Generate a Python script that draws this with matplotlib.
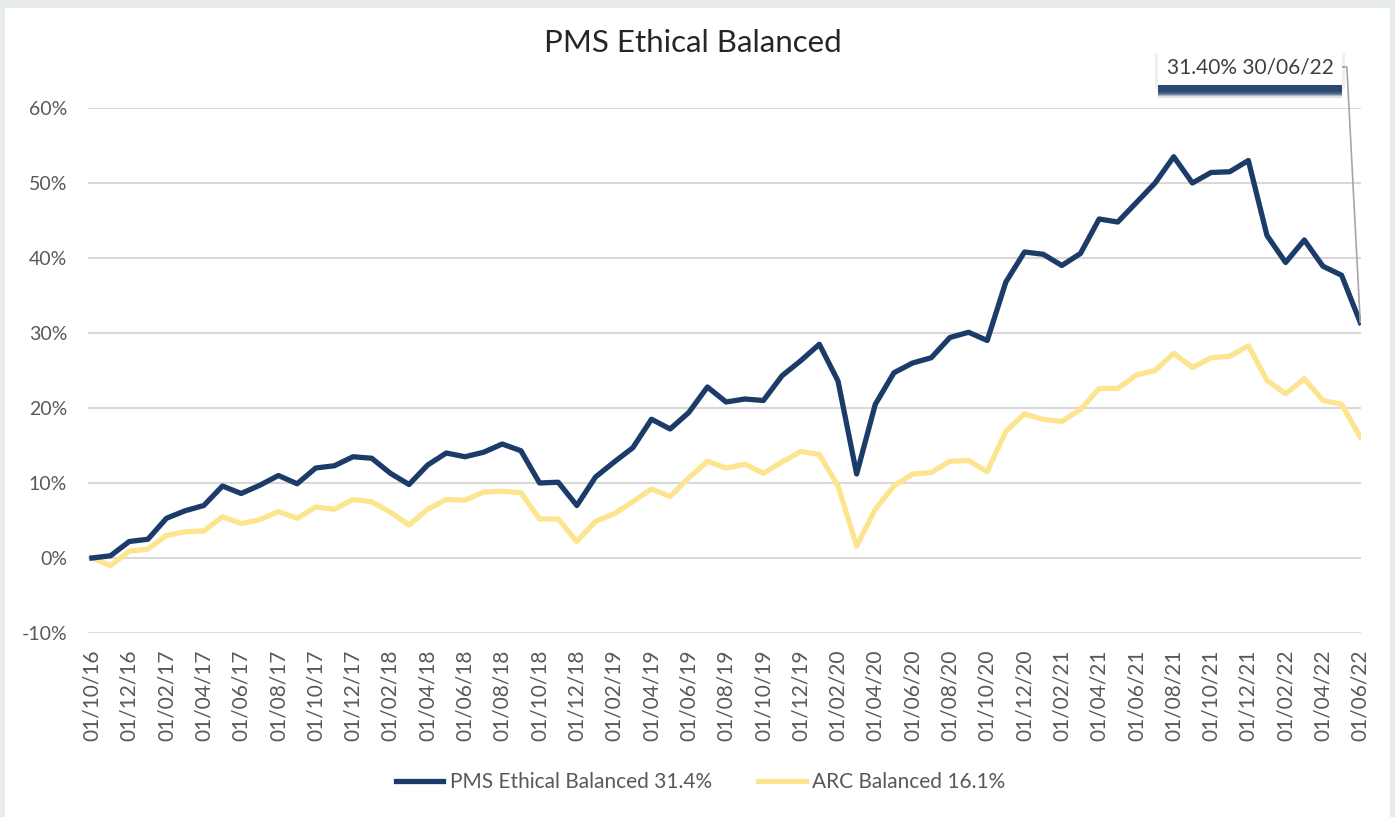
import matplotlib.pyplot as plt
import matplotlib.patheffects as pe
from matplotlib.patches import Rectangle

# monthly cumulative returns (%), Oct 2016 .. Jun 2022
months = [f"01/{m:02d}/{y % 100:02d}" for y in range(2016, 2023) for m in range(1, 13)]
months = months[9:9 + 69]

pms = [0.0, 0.3, 2.2, 2.5, 5.3, 6.3, 7.0, 9.6, 8.6, 9.7,
       11.0, 9.9, 12.0, 12.3, 13.5, 13.3, 11.3, 9.8, 12.4, 14.0,
       13.5, 14.1, 15.2, 14.3, 10.0, 10.1, 7.0, 10.8, 12.8, 14.7,
       18.5, 17.2, 19.4, 22.8, 20.8, 21.2, 21.0, 24.3, 26.3, 28.5,
       23.6, 11.2, 20.5, 24.7, 26.0, 26.7, 29.4, 30.1, 29.0, 36.8,
       40.8, 40.5, 39.0, 40.6, 45.2, 44.8, 47.4, 50.0, 53.5, 50.0,
       51.4, 51.5, 53.0, 43.0, 39.4, 42.4, 38.9, 37.7, 31.4]

arc = [0.0, -1.0, 0.9, 1.2, 3.0, 3.5, 3.6, 5.5, 4.6, 5.1,
       6.2, 5.3, 6.8, 6.5, 7.8, 7.5, 6.1, 4.4, 6.5, 7.8,
       7.7, 8.8, 8.9, 8.7, 5.2, 5.2, 2.2, 4.9, 5.9, 7.5,
       9.2, 8.2, 10.7, 12.9, 12.0, 12.5, 11.3, 12.8, 14.2, 13.8,
       9.6, 1.6, 6.5, 9.6, 11.2, 11.4, 12.9, 13.0, 11.5, 16.9,
       19.2, 18.5, 18.2, 19.8, 22.6, 22.6, 24.4, 25.0, 27.3, 25.4,
       26.7, 26.9, 28.3, 23.7, 21.9, 23.9, 21.0, 20.5, 16.1]

yticks = [-10, 0, 10, 20, 30, 40, 50, 60]
navy = "#1b3b68"
yellow = "#fde590"
grey_txt = "#595959"
font = ["Lato", "DejaVu Sans"]

fig = plt.figure(figsize=(13.95, 8.17), dpi=100, facecolor="#e8ebeb")
fig.patches.append(Rectangle((5 / 1395, 0), 1385 / 1395, 1 - 8 / 817,
                             transform=fig.transFigure, facecolor="white",
                             edgecolor="none", zorder=-5))

ax = fig.add_axes([88 / 1395, 1 - 633 / 817, (1361 - 88) / 1395, (633 - 108) / 817])
ax.set_facecolor("none")
x = list(range(len(pms)))
ax.plot(x, pms, color=navy, lw=3.8, label="PMS Ethical Balanced 31.4%", zorder=3)
ax.plot(x, arc, color=yellow, lw=3.8, label="ARC Balanced 16.1%", zorder=2)

ax.set_xlim(-0.21, 68.04)
ax.set_ylim(-10, 60)
ax.set_yticks(yticks)
ax.set_yticklabels([f"{v}%" for v in yticks], fontsize=14, color=grey_txt, family=font)
ax.set_xticks(x[::2])
ax.set_xticklabels(months[::2], rotation=90, fontsize=15, color=grey_txt, family=font)
ax.tick_params(length=0)
ax.tick_params(axis="x", pad=12)
ax.tick_params(axis="y", pad=15)
ax.grid(axis="y", color="#d9d9d9", lw=1.5)
for s in ax.spines.values():
    s.set_visible(False)

fig.text(0.497, 1 - 43 / 817, "PMS Ethical Balanced", ha="center", va="center",
         fontsize=22.5, color="#262626", family=font)

leg = fig.legend(loc="center", bbox_to_anchor=(0.502, 1 - 782 / 817), ncol=2, frameon=False,
                 prop={"family": font, "size": 15}, handlelength=2.3, handletextpad=0.3,
                 columnspacing=2.2)
for t in leg.get_texts():
    t.set_color(grey_txt)

ann = ax.annotate("31.40% 30/06/22", xy=(68, pms[-1]),
                  xytext=(1250 / 1395, 1 - 67 / 817), textcoords="figure fraction",
                  ha="center", va="center", fontsize=15, color="#404040", family=font,
                  annotation_clip=False,
                  bbox=dict(boxstyle="square,pad=0.4", fc="white", ec="none"),
                  arrowprops=dict(arrowstyle="-", color="#a6a6a6", lw=1.2,
                                  connectionstyle="angle,angleA=0,angleB=93,rad=0",
                                  shrinkA=0, shrinkB=0))
# soft navy drop shadow under the label box
shadow = []
for dx, dy, a in [(-2, -3, 0.08), (2, -3, 0.08), (0, -9, 0.15), (0, -8, 0.25),
                  (0, -7, 0.35), (0, -6, 0.5), (0, -5, 0.6)]:
    shadow.append(pe.SimplePatchShadow(offset=(dx, dy), shadow_rgbFace=navy, alpha=a))
ann.get_bbox_patch().set_path_effects(shadow + [pe.Normal()])

fig.savefig("out.png", dpi=100, facecolor=fig.get_facecolor())
